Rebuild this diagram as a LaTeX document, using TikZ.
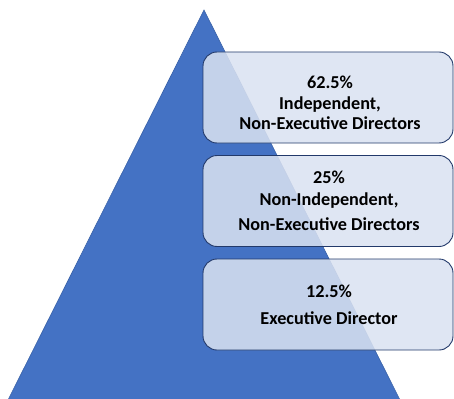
\documentclass[tikz,border=0pt]{standalone}
\usepackage{fontspec}
\setmainfont{Carlito}
\definecolor{trifill}{HTML}{4472C4}
\definecolor{triline}{HTML}{3A62A8}
\definecolor{boxfill}{HTML}{DAE2F1}
\definecolor{boxline}{HTML}{22396A}
\begin{document}
\begin{tikzpicture}[x=1pt,y=-1pt,
  box/.style={draw=boxline, line width=0.9pt, fill=boxfill, fill opacity=0.86, draw opacity=1,
    rounded corners=14pt, minimum width=250pt, minimum height=91pt, inner sep=0pt},
  txt/.style={font=\bfseries\fontsize{18.2}{20.5}\selectfont, align=center, text=black, inner sep=0pt}]
\useasboundingbox (0,0) rectangle (454,398);
\fill[trifill, draw=triline, line width=0.6pt] (204,10) -- (8,400) -- (400,400) -- cycle;
\node[box] (b1) at (328,97.5) {};
\node[box] (b2) at (328,201) {};
\node[box] (b3) at (328,304.5) {};
\node[txt] (t1) at (330,103) {62.5\%\\Independent,\\Non-Executive Directors};
\node[txt] (t2) at (329,201) {25\%\\[1.5pt]Non-Independent,\\[4.5pt]Non-Executive Directors};
\node[txt] (t3) at (329,304.5) {12.5\%\\[6.5pt]Executive Director};
\end{tikzpicture}
\end{document}
